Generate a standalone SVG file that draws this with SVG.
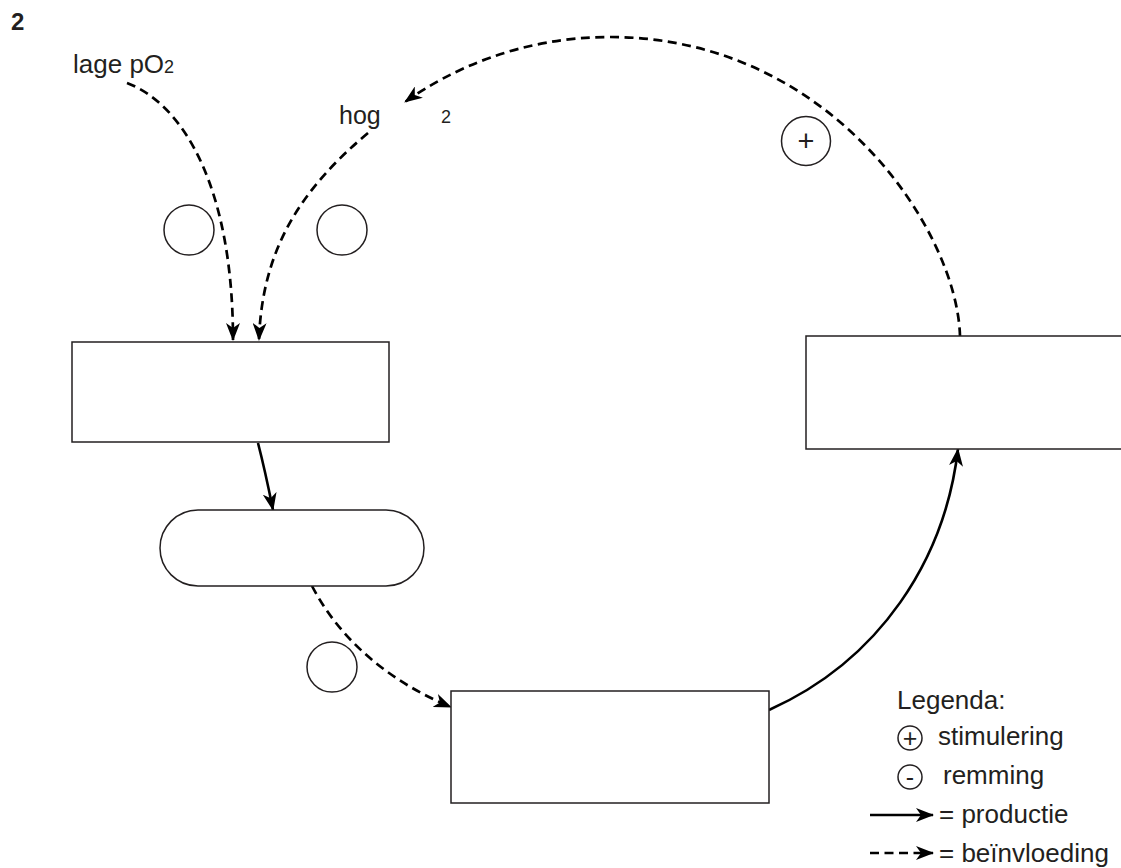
<svg xmlns="http://www.w3.org/2000/svg" width="1121" height="868" viewBox="0 0 1121 868">
<style>
.t{font-family:"Liberation Sans",Arial,sans-serif;fill:#231f20}
.box{fill:#fff;stroke:#231f20;stroke-width:1.5}
.c{fill:none;stroke:#231f20;stroke-width:1.5}
.solid{fill:none;stroke:#000;stroke-width:2.6;marker-end:url(#ah)}
.dash{fill:none;stroke:#000;stroke-width:2.7;stroke-dasharray:9 5.5;marker-end:url(#ah)}
</style>
<defs>
<marker id="ah" viewBox="0 0 18 14" refX="17" refY="7" markerWidth="18" markerHeight="14" markerUnits="userSpaceOnUse" orient="auto">
<path d="M0,0 L18,7 L0,14 L5,7 Z" fill="#000"/>
</marker>
</defs>
<rect width="1121" height="868" fill="#fff"/>
<text class="t" x="11" y="30" font-size="24" font-weight="bold">2</text>
<g id="lbl-lage">
<text class="t" x="73" y="73" font-size="26">lage pO<tspan font-size="18">2</tspan></text>
</g>
<g id="lbl-hoge">
<text class="t" x="339" y="124" font-size="25">hog</text>
<text class="t" x="441" y="123" font-size="18">2</text>
</g>
<g id="connectors">
<path class="dash" d="M127,83 C185,105 233,190 233,340"/>
<path class="dash" d="M368,133 C300,190 262,250 259,340"/>
<path class="dash" d="M960,336 C957,230 830,37 610,37 C520,37 450,70 405,102"/>
<path class="solid" d="M258,443 Q265,470 273,510"/>
<path class="dash" d="M312,586 C340,640 390,682 451,707"/>
<path class="solid" d="M769,710 C880,660 945,560 958,449"/>
</g>
<g id="box-left"><rect class="box" x="72" y="342" width="317" height="100"/></g>
<g id="pill"><rect class="box" x="160" y="510" width="264" height="76" rx="38" ry="38"/></g>
<g id="box-bottom"><rect class="box" x="451" y="691" width="318" height="112"/></g>
<g id="box-right"><rect class="box" x="806" y="336" width="330" height="113"/></g>
<g id="circle-1"><circle class="c" cx="189" cy="230" r="25"/></g>
<g id="circle-2"><circle class="c" cx="342" cy="230" r="25"/></g>
<g id="circle-3"><circle class="c" cx="332" cy="667" r="25"/></g>
<g id="circle-plus"><circle class="c" cx="806" cy="141" r="24.5"/>
<text class="t" x="806" y="151" font-size="29" text-anchor="middle">+</text></g>
<g id="legend">
<text class="t" x="897" y="709" font-size="26">Legenda:</text>
<circle class="c" cx="910" cy="738" r="12"/>
<text class="t" x="910" y="747" font-size="25" text-anchor="middle">+</text>
<text class="t" x="938" y="745" font-size="26">stimulering</text>
<circle class="c" cx="910" cy="777" r="12"/>
<text class="t" x="910" y="786" font-size="25" text-anchor="middle">-</text>
<text class="t" x="943" y="784" font-size="26">remming</text>
<path class="solid" d="M870,815 L933,815"/>
<text class="t" x="939" y="823" font-size="26">= productie</text>
<path class="dash" d="M870,853 L933,853" stroke-dasharray="8 5"/>
<text class="t" x="939" y="862" font-size="26">= beïnvloeding</text>
</g>
</svg>
